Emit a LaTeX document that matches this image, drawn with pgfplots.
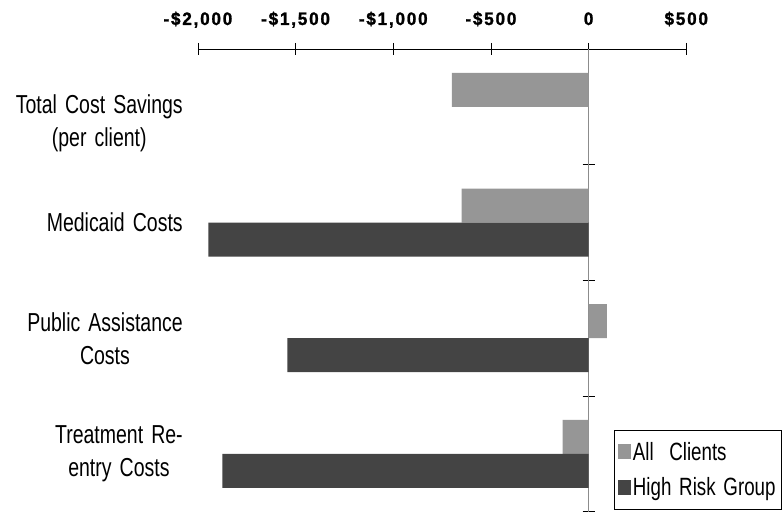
\documentclass[border=0pt]{standalone}
\usepackage{pgfplots}
\pgfplotsset{compat=1.18}
\usepackage{fontspec}
\setmainfont{Liberation Sans}[FakeStretch=0.75, WordSpace=1.5]
\newfontfamily\tickfont{Liberation Sans}[FakeStretch=0.95, LetterSpace=10, FakeBold=1.4]
\definecolor{allc}{HTML}{969696}
\definecolor{highr}{HTML}{444444}
\definecolor{yline}{HTML}{8C8C8C}
\begin{document}
\begin{tikzpicture}
\begin{axis}[
  scale only axis, width=488.6pt, height=463pt,
  xbar, bar width=34pt,
  xmin=-2000, xmax=500, ymin=-0.5, ymax=3.5, y dir=reverse,
  axis x line=top, axis y line=middle,
  axis line style={-},
  x axis line style={black, line width=0.8pt},
  y axis line style={yline, line width=1.5pt},
  xtick={-2000,-1500,-1000,-500,0,500},
  xticklabels={{-\$2,000},{-\$1,500},{-\$1,000},{-\$500},{0},{\$500}},
  xticklabel style={font=\tickfont\bfseries\fontsize{18}{21}\selectfont, anchor=base, yshift=18pt},
  ytick={0.5,1.5,2.5,3.5}, yticklabels={},
  tick align=center, major tick length=12pt,
  every tick/.style={black, line width=0.8pt},
  clip=false,
  legend style={at={(axis description cs:0.851,0.0043)}, anchor=south west,
    draw=black, line width=0.8pt, inner xsep=4pt, inner ysep=10pt, row sep=12pt,
    font=\fontsize{25}{28}\selectfont, nodes={inner sep=2pt}},
  legend cell align=left,
  legend image code/.code={\fill[#1, draw=none] (0pt,-7pt) rectangle (13pt,8pt);},
]
\addplot[fill=allc, draw=none, bar shift=17pt] coordinates {(-700,0) (-650,1) (94,2) (-133,3)};
\addplot[fill=highr, draw=none, bar shift=-17pt] coordinates {(-1947,1) (-1542,2) (-1875,3)};
\legend{All~~Clients, High Risk Group}
\node[anchor=east, align=center, inner sep=0pt, font=\fontsize{26}{33}\selectfont] at ([xshift=-15pt,yshift=-16pt]axis cs:-2000,0) {Total Cost Savings\\(per client)};
\node[anchor=east, align=center, inner sep=0pt, font=\fontsize{26}{33}\selectfont] at ([xshift=-15pt]axis cs:-2000,1) {Medicaid Costs};
\node[anchor=east, align=center, inner sep=0pt, font=\fontsize{26}{33}\selectfont] at ([xshift=-15pt]axis cs:-2000,2) {Public Assistance\\Costs};
\node[anchor=east, align=center, inner sep=0pt, font=\fontsize{26}{33}\selectfont] at ([xshift=-15pt]axis cs:-2000,3) {Treatment Re-\\entry Costs};
\end{axis}
\path (current axis.south west) ++(-198pt,0) rectangle ++(782pt,512pt);
\end{tikzpicture}
\end{document}
